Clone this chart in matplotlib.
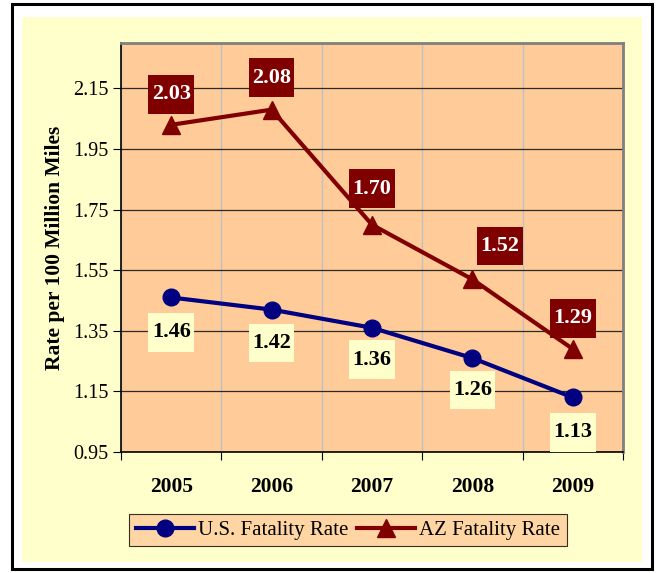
import matplotlib
matplotlib.use('Agg')
import matplotlib.pyplot as plt
from matplotlib.patches import Rectangle
from matplotlib.path import Path

# data
years = ['2005', '2006', '2007', '2008', '2009']
us_rate = [1.46, 1.42, 1.36, 1.26, 1.13]
az_rate = [2.03, 2.08, 1.70, 1.52, 1.29]
y_ticks = [0.95, 1.15, 1.35, 1.55, 1.75, 1.95, 2.15]

# label offsets in points (placement only)
az_offsets = [(0, 22), (0, 23), (0, 26), (20, 24), (0, 22)]
us_offsets = [(0, -25), (0, -24), (0, -23), (0, -23), (0, -25)]

plt.rcParams['font.family'] = ['Liberation Serif', 'DejaVu Serif']

peach = '#FFCC99'
cream = '#FFFFCC'
navy = '#000080'
maroon = '#800000'


# label box: small side padding, tall top/bottom padding (like the Excel labels)
def tall_box(x0, y0, width, height, mutation_size):
    px = 0.15 * mutation_size
    py = 0.42 * mutation_size
    x0, y0 = x0 - px, y0 - py
    x1, y1 = x0 + width + 2 * px, y0 + height + 2 * py
    return Path([(x0, y0), (x1, y0), (x1, y1), (x0, y1), (x0, y0)], closed=True)


fig = plt.figure(figsize=(6.59, 5.73), dpi=100)
fig.patch.set_facecolor('white')

# outer frame + cream chart area
fig.patches.append(Rectangle((12/659, 1 - 569/573), 640/659, 565/573, transform=fig.transFigure,
                             facecolor='none', edgecolor='black', linewidth=2.2, zorder=-2))
fig.patches.append(Rectangle((22/659, 1 - 562/573), 620/659, 545/573, transform=fig.transFigure,
                             facecolor=cream, edgecolor='none', zorder=-1))

ax = fig.add_axes([121/659, 1 - 452/573, 502/659, 409/573])
ax.set_facecolor(peach)

x = list(range(len(years)))

ax.plot(x, us_rate, color=navy, lw=3, marker='o', markersize=12, label='U.S. Fatality Rate', zorder=4)
ax.plot(x, az_rate, color=maroon, lw=3, marker='^', markersize=13, label='AZ Fatality Rate', zorder=4)

for i in x:
    ax.annotate(f'{az_rate[i]:.2f}', (i, az_rate[i]), xytext=az_offsets[i], textcoords='offset points',
                ha='center', va='center', fontsize=16, fontweight='bold', color='white', zorder=5,
                bbox=dict(boxstyle=tall_box, facecolor=maroon, edgecolor='none'))
    ax.annotate(f'{us_rate[i]:.2f}', (i, us_rate[i]), xytext=us_offsets[i], textcoords='offset points',
                ha='center', va='center', fontsize=16, fontweight='bold', color='black', zorder=5,
                bbox=dict(boxstyle=tall_box, facecolor=cream, edgecolor='none'))

ax.set_xlim(-0.5, 4.5)
ax.set_ylim(0.95, 2.30)

# category boundaries as major ticks, names on minor ticks
ax.set_xticks([i - 0.5 for i in range(len(years) + 1)])
ax.set_xticklabels([])
ax.set_xticks(x, minor=True)
ax.set_xticklabels(years, minor=True, fontsize=15.5, fontweight='bold')
ax.tick_params(axis='x', which='minor', length=0, pad=18)
ax.tick_params(axis='x', which='major', length=6, direction='out', color='black')
ax.xaxis.grid(True, which='major', color='#C0C0C0', lw=1)

ax.set_yticks(y_ticks)
ax.set_yticklabels([f'{v:.2f}' for v in y_ticks], fontsize=14.5)
ax.tick_params(axis='y', length=6, direction='out', color='black', pad=3)
ax.yaxis.grid(True, color='#2a2a2a', lw=0.9)
ax.set_axisbelow(True)

ax.set_ylabel('Rate per 100 Million Miles', fontsize=15.5, fontweight='bold', labelpad=6)

for side in ['left', 'bottom']:
    ax.spines[side].set_color('black')
    ax.spines[side].set_linewidth(1.2)
for side in ['top', 'right']:
    ax.spines[side].set_color('#808080')
    ax.spines[side].set_linewidth(2)

leg = fig.legend(loc='center', bbox_to_anchor=(348/659, 1 - 530/573), ncol=2, fontsize=15,
                 frameon=True, fancybox=False, facecolor=peach, edgecolor='black',
                 handlelength=2.8, columnspacing=0.4, handletextpad=0.2, borderpad=0.3)
leg.get_frame().set_linewidth(0.8)

fig.savefig('out.png', dpi=100)
